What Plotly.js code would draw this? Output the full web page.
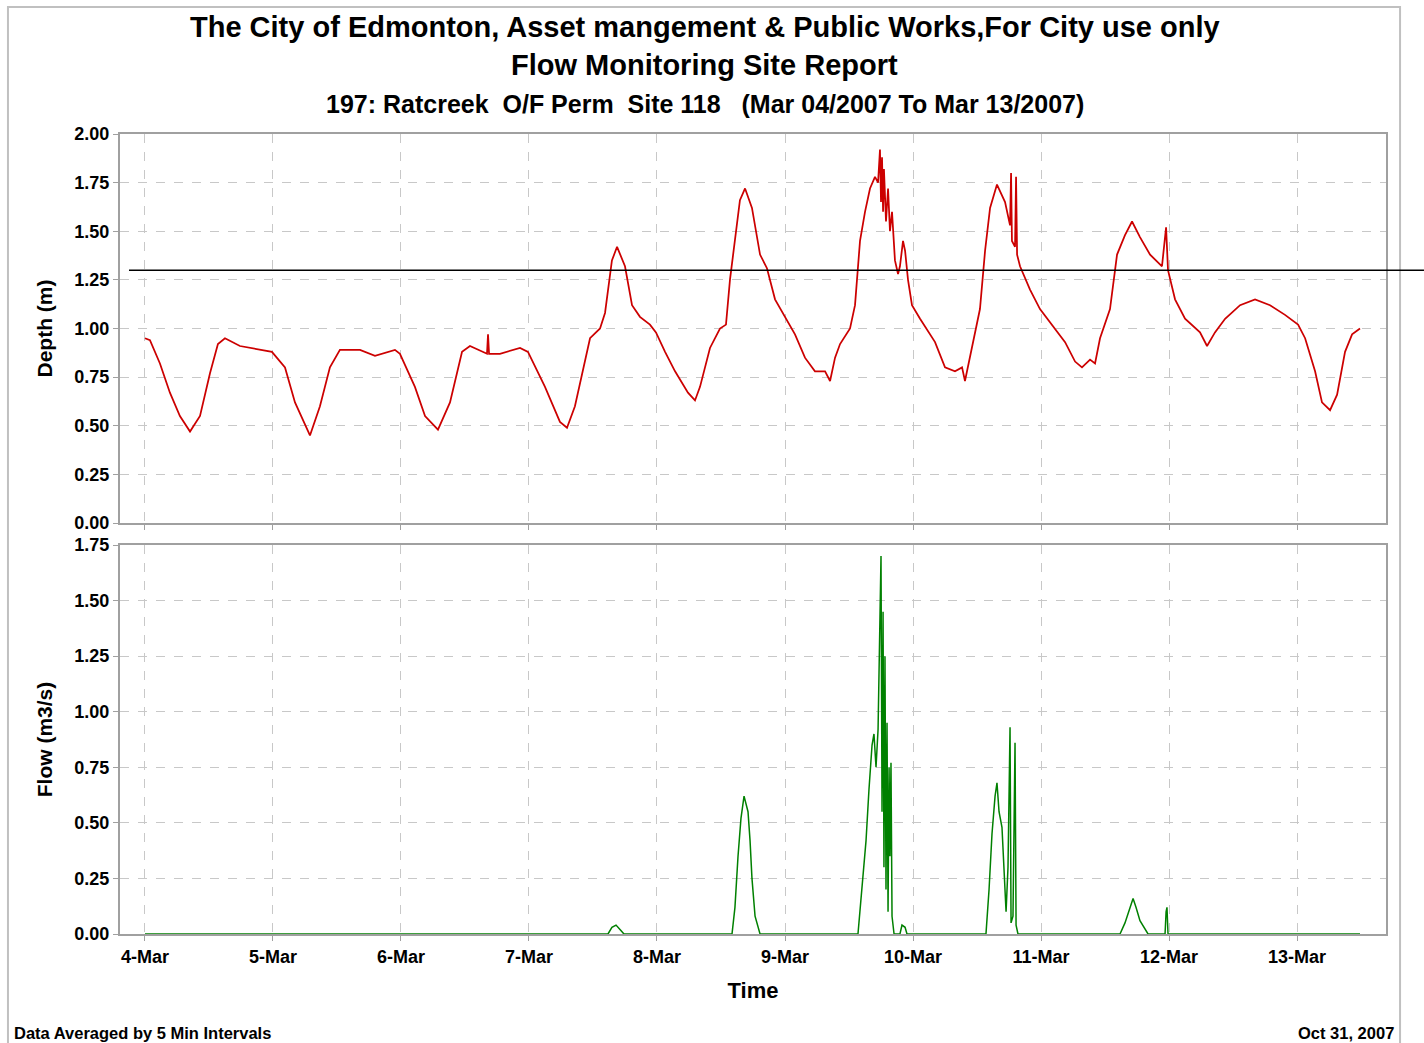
<!DOCTYPE html>
<html>
<head>
<meta charset="utf-8">
<script src="https://cdn.plot.ly/plotly-3.0.1.min.js"></script>
<style>html,body{margin:0;padding:0;background:#fff;}#chart{width:1424px;height:1043px;}</style>
</head>
<body>
<div id="chart"></div>
<script>
// Times are given as decimal day-of-March 2007
const depthDay = [4.000,4.039,4.117,4.195,4.273,4.352,4.430,4.508,4.570,4.625,4.742,4.898,4.992,5.094,5.172,5.289,5.367,5.445,5.523,5.680,5.797,5.953,5.992,6.109,6.188,6.289,6.383,6.477,6.539,6.672,6.680,6.688,6.773,6.930,6.992,7.125,7.242,7.297,7.359,7.477,7.555,7.594,7.648,7.688,7.750,7.805,7.867,7.945,7.992,8.063,8.141,8.242,8.297,8.336,8.414,8.492,8.539,8.570,8.609,8.648,8.688,8.742,8.805,8.859,8.922,8.992,9.078,9.156,9.234,9.313,9.352,9.391,9.430,9.508,9.547,9.586,9.625,9.664,9.703,9.727,9.742,9.750,9.758,9.766,9.773,9.789,9.805,9.820,9.836,9.859,9.883,9.898,9.922,9.938,9.961,9.992,10.055,10.172,10.250,10.328,10.383,10.406,10.445,10.523,10.563,10.602,10.656,10.719,10.758,10.766,10.773,10.797,10.805,10.813,10.836,10.914,10.992,11.109,11.188,11.266,11.320,11.383,11.422,11.461,11.539,11.594,11.656,11.711,11.773,11.852,11.914,11.945,11.977,11.992,12.047,12.125,12.242,12.297,12.359,12.438,12.555,12.672,12.789,12.906,13.008,13.063,13.141,13.195,13.258,13.313,13.375,13.430,13.492];
const depthVal = [0.95,0.94,0.82,0.67,0.55,0.47,0.55,0.77,0.92,0.95,0.91,0.89,0.88,0.80,0.62,0.45,0.60,0.80,0.89,0.89,0.86,0.89,0.87,0.70,0.55,0.48,0.62,0.88,0.91,0.87,0.97,0.87,0.87,0.90,0.88,0.70,0.52,0.49,0.60,0.95,1.00,1.08,1.35,1.42,1.32,1.12,1.06,1.02,0.98,0.88,0.78,0.67,0.63,0.70,0.90,1.00,1.02,1.25,1.45,1.66,1.72,1.62,1.38,1.31,1.15,1.07,0.97,0.85,0.78,0.78,0.73,0.85,0.92,1.00,1.12,1.45,1.60,1.72,1.78,1.75,1.92,1.65,1.88,1.60,1.82,1.55,1.72,1.50,1.60,1.35,1.28,1.32,1.45,1.40,1.25,1.12,1.05,0.93,0.80,0.78,0.80,0.73,0.85,1.10,1.40,1.62,1.74,1.65,1.53,1.80,1.45,1.42,1.78,1.38,1.32,1.20,1.10,1.00,0.93,0.83,0.80,0.84,0.82,0.95,1.10,1.38,1.48,1.55,1.47,1.38,1.34,1.32,1.52,1.30,1.15,1.05,0.98,0.91,0.98,1.05,1.12,1.15,1.12,1.07,1.02,0.95,0.78,0.62,0.58,0.66,0.88,0.97,1.00];

const flowDay = [4.000,7.617,7.648,7.680,7.711,7.742,8.586,8.609,8.633,8.656,8.680,8.695,8.711,8.727,8.742,8.766,8.805,9.570,9.602,9.633,9.656,9.680,9.695,9.711,9.727,9.742,9.750,9.758,9.766,9.773,9.781,9.789,9.797,9.805,9.813,9.820,9.828,9.836,9.852,9.898,9.914,9.938,9.953,10.570,10.594,10.617,10.641,10.656,10.672,10.695,10.711,10.727,10.742,10.758,10.766,10.781,10.797,10.805,10.820,11.617,11.656,11.695,11.719,11.742,11.773,11.836,11.969,11.977,11.984,11.992,13.492];
const flowVal = [0,0,0.03,0.04,0.02,0,0,0.12,0.35,0.52,0.62,0.58,0.55,0.42,0.25,0.08,0,0,0.22,0.42,0.65,0.85,0.90,0.75,0.92,1.58,1.70,0.55,1.45,0.30,1.25,0.20,0.95,0.10,0.75,0.35,0.77,0.08,0,0,0.04,0.03,0,0,0.20,0.45,0.62,0.68,0.55,0.48,0.28,0.10,0.30,0.93,0.05,0.08,0.86,0.04,0,0,0.05,0.12,0.16,0.12,0.06,0,0,0.10,0.12,0,0];

const depthLimit = 1.3;
const xRangeDays = [3.805, 13.695];
const titleLines = [
  "The City of Edmonton, Asset mangement &amp; Public Works,For City use only",
  "Flow Monitoring Site Report",
  "197: Ratcreek&nbsp; O/F Perm&nbsp; Site 118&nbsp;&nbsp; (Mar 04/2007 To Mar 13/2007)"
];
const footerLeft = "Data Averaged by 5 Min Intervals";
const footerRight = "Oct 31, 2007";

function toDate(d) {
  const ms = Date.UTC(2007, 1, 28) + d * 86400000;
  return new Date(ms).toISOString().replace('T', ' ').slice(0, 19);
}

const FONT = 'Liberation Sans, Arial, sans-serif';
const gridCol = '#c8c8c8';
const lineCol = '#a0a0a0';

const traces = [
  {x: depthDay.map(toDate), y: depthVal, type: 'scatter', mode: 'lines',
   line: {color: '#cc0000', width: 1.75}, xaxis: 'x2', yaxis: 'y', showlegend: false},
  {x: flowDay.map(toDate), y: flowVal, type: 'scatter', mode: 'lines',
   line: {color: '#008000', width: 1.5, shape: 'linear'}, xaxis: 'x', yaxis: 'y2', showlegend: false}
];

const tickFont = {family: FONT, size: 18, color: '#000', weight: 'bold'};
const axTitleFont = {family: FONT, size: 21, color: '#000', weight: 'bold'};

const commonX = {
  type: 'date', range: xRangeDays.map(toDate), tick0: toDate(4), dtick: 86400000,
  tickformat: '%-d-%b', showgrid: true, gridcolor: gridCol, griddash: 'dash', gridwidth: 1,
  showline: true, mirror: true, linecolor: lineCol, linewidth: 2, zeroline: false,
  ticks: 'outside', ticklen: 5, tickcolor: lineCol, tickfont: tickFont
};
const commonY = {
  showgrid: true, gridcolor: gridCol, griddash: 'dash', gridwidth: 1,
  showline: true, mirror: true, linecolor: lineCol, linewidth: 2, zeroline: false,
  ticks: 'outside', ticklen: 5, tickcolor: lineCol, dtick: 0.25, tickformat: '.2f',
  tickfont: tickFont
};

const layout = {
  width: 1424, height: 1043,
  margin: {l: 120, r: 38, t: 134, b: 109},
  paper_bgcolor: '#fff', plot_bgcolor: '#fff',
  xaxis: Object.assign({}, commonX, {anchor: 'y2', domain: [0, 1],
    title: {text: 'Time', font: Object.assign({}, axTitleFont, {size: 22}), standoff: 17}}),
  xaxis2: Object.assign({}, commonX, {anchor: 'y', domain: [0, 1], matches: 'x', showticklabels: false}),
  yaxis: Object.assign({}, commonY, {domain: [0.51375, 1], range: [0, 2], anchor: 'x2',
    title: {text: 'Depth (m)', font: axTitleFont, standoff: 16}}),
  yaxis2: Object.assign({}, commonY, {domain: [0, 0.48625], range: [0, 1.75], anchor: 'x',
    title: {text: 'Flow (m3/s)', font: axTitleFont, standoff: 16}}),
  shapes: [
    {type: 'line', xref: 'paper', yref: 'y', x0: 0.0071, x1: 1.03, y0: depthLimit, y1: depthLimit,
     line: {color: '#000', width: 1.5}},
    {type: 'rect', xref: 'paper', yref: 'paper', x0: -0.0885, x1: 1.0111, y0: -0.2, y1: 1.15875,
     line: {color: '#c0c0c0', width: 2}, fillcolor: 'rgba(0,0,0,0)', layer: 'below'}
  ],
  annotations: [
    {text: titleLines[0], xref: 'paper', yref: 'paper', x: 0.462, y: 1.13375, xanchor: 'center', yanchor: 'middle',
     showarrow: false, font: {family: FONT, size: 29, color: '#000', weight: 'bold'}},
    {text: titleLines[1], xref: 'paper', yref: 'paper', x: 0.462, y: 1.08625, xanchor: 'center', yanchor: 'middle',
     showarrow: false, font: {family: FONT, size: 29, color: '#000', weight: 'bold'}},
    {text: titleLines[2], xref: 'paper', yref: 'paper', x: 0.462, y: 1.0375, xanchor: 'center', yanchor: 'middle',
     showarrow: false, font: {family: FONT, size: 25, color: '#000', weight: 'bold'}},
    {text: footerLeft, xref: 'paper', yref: 'paper', x: -0.0853, y: -0.12375, xanchor: 'left', yanchor: 'middle',
     showarrow: false, font: {family: FONT, size: 16.5, color: '#000', weight: 'bold'}},
    {text: footerRight, xref: 'paper', yref: 'paper', x: 1.0079, y: -0.12375, xanchor: 'right', yanchor: 'middle',
     showarrow: false, font: {family: FONT, size: 16.5, color: '#000', weight: 'bold'}}
  ]
};

Plotly.newPlot('chart', traces, layout, {staticPlot: true, displayModeBar: false});
</script>
</body>
</html>
